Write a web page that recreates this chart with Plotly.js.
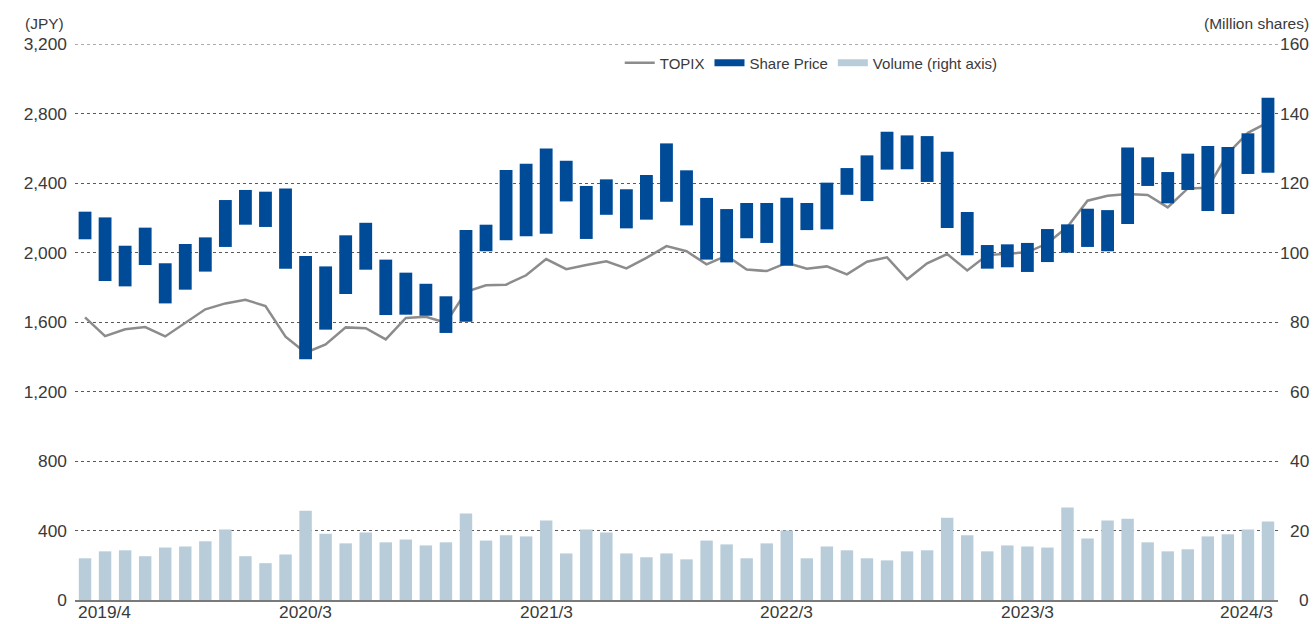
<!DOCTYPE html>
<html>
<head>
<meta charset="utf-8">
<script src="https://cdn.plot.ly/plotly-3.0.1.min.js"></script>
<style>html,body{margin:0;padding:0;background:#fff;}#chart{width:1313px;height:624px;}</style>
</head>
<body>
<div id="chart"></div>
<script>
const months = ["2019/4","2019/5","2019/6","2019/7","2019/8","2019/9","2019/10","2019/11","2019/12","2020/1","2020/2","2020/3",
"2020/4","2020/5","2020/6","2020/7","2020/8","2020/9","2020/10","2020/11","2020/12","2021/1","2021/2","2021/3",
"2021/4","2021/5","2021/6","2021/7","2021/8","2021/9","2021/10","2021/11","2021/12","2022/1","2022/2","2022/3",
"2022/4","2022/5","2022/6","2022/7","2022/8","2022/9","2022/10","2022/11","2022/12","2023/1","2023/2","2023/3",
"2023/4","2023/5","2023/6","2023/7","2023/8","2023/9","2023/10","2023/11","2023/12","2024/1","2024/2","2024/3"];

const priceHigh = [2235,2202,2039,2143,1938,2049,2087,2302,2360,2350,2369,1980,1920,2099,2171,1959,1884,1820,1748,2129,
2160,2475,2511,2599,2528,2383,2421,2364,2446,2628,2473,2314,2250,2285,2285,2315,2285,2402,2486,2559,
2695,2674,2670,2580,2233,2043,2047,2055,2135,2162,2252,2244,2605,2548,2463,2569,2613,2607,2686,2891];

const priceLow = [2076,1836,1805,1928,1707,1786,1890,2032,2160,2147,1907,1385,1556,1761,1901,1640,1642,1636,1537,1602,
2007,2070,2093,2108,2294,2078,2217,2139,2189,2292,2156,1959,1943,2082,2055,1924,2129,2133,2332,2296,
2477,2479,2406,2141,1984,1907,1915,1888,1945,1999,2032,2007,2164,2383,2283,2360,2239,2222,2452,2459];

const topix = [1627,1519,1558,1571,1517,1594,1673,1707,1728,1692,1515,1423,1471,1569,1564,1500,1623,1630,1596,1774,
1811,1815,1869,1962,1904,1928,1949,1909,1969,2037,2007,1932,1982,1902,1893,1941,1907,1920,1874,1947,
1972,1846,1938,1991,1897,1985,1991,2001,2053,2148,2298,2327,2337,2331,2260,2369,2373,2570,2689,2749];

const volume = [12.0,14.0,14.3,12.6,15.1,15.4,16.9,20.3,12.6,10.6,13.1,25.7,19.1,16.3,19.4,16.6,17.4,15.7,16.6,24.9,
17.1,18.6,18.3,22.9,13.4,20.3,19.4,13.4,12.3,13.4,11.7,17.1,16.0,12.0,16.3,20.0,12.0,15.4,14.3,12.0,
11.4,14.0,14.3,23.7,18.6,14.0,15.7,15.4,15.1,26.6,17.7,22.9,23.4,16.6,14.0,14.6,18.3,18.9,20.3,22.6];

const xTickLabels = ["2019/4","2020/3","2021/3","2022/3","2023/3","2024/3"];
const leftTicks = [0,400,800,1200,1600,2000,2400,2800,3200];
const rightTicks = [0,20,40,60,80,100,120,140,160];

const seriesNames = ["TOPIX","Share Price","Volume (right axis)"];
const colTopix = "#8c8c8c", colPrice = "#004b98", colVol = "#b8cdd9";
const font = "Liberation Sans, Arial, sans-serif";
const txt = "#3a3a3a";
const tickSize = 17.33;

const priceSpan = priceHigh.map((h,i)=>h-priceLow[i]);

const traces = [
  {type:"bar", x:months, y:volume, yaxis:"y", marker:{color:colVol}, width:0.62, showlegend:false},
  {type:"scatter", mode:"lines", x:months, y:topix, yaxis:"y2", name:seriesNames[0], line:{color:colTopix,width:2.5}},
  {type:"bar", x:months, y:priceSpan, base:priceLow, yaxis:"y3", marker:{color:colPrice}, width:0.64, showlegend:false},
  {type:"scatter", mode:"lines", x:[null], y:[null], yaxis:"y", name:seriesNames[1], line:{color:colPrice,width:7}},
  {type:"scatter", mode:"lines", x:[null], y:[null], yaxis:"y", name:seriesNames[2], line:{color:colVol,width:7}}
];

const annotations = xTickLabels.map((lab,i)=>({
  x: lab, xref:"x", y:-0.0432, yref:"paper", yanchor:"bottom",
  xanchor: i===0 ? "left" : (i===xTickLabels.length-1 ? "right" : "center"),
  xshift: i===0 ? -9 : (i===xTickLabels.length-1 ? 7 : 0),
  text: lab, showarrow:false, font:{family:font,size:tickSize,color:txt}
}));
// right axis tick labels, right-aligned as in the reference
rightTicks.forEach(v=>annotations.push({
  x:1.0274, xref:"paper", y:v, yref:"y", xanchor:"right", yanchor:"middle",
  text:String(v), showarrow:false, font:{family:font,size:tickSize,color:txt}
}));
annotations.push({x:-0.0075, xref:"paper", y:1.036, yref:"paper", xanchor:"right", yanchor:"middle", text:"(JPY)", showarrow:false, font:{family:font,size:15.5,color:txt}});
annotations.push({x:1.0274, xref:"paper", y:1.036, yref:"paper", xanchor:"right", yanchor:"middle", text:"(Million shares)", showarrow:false, font:{family:font,size:15.5,color:txt}});

const layout = {
  width:1313, height:624,
  margin:{l:75, r:35, t:44, b:24},
  paper_bgcolor:"#fff", plot_bgcolor:"#fff",
  font:{family:font, size:15, color:txt},
  barmode:"overlay",
  showlegend:true,
  legend:{orientation:"h", x:0.612, xanchor:"center", y:0.966, yanchor:"middle", font:{family:font,size:15,color:txt}, bgcolor:"rgba(0,0,0,0)", itemwidth:30},
  xaxis:{type:"category", range:[-0.5,59.5], showticklabels:false, ticks:"", showgrid:false, showline:true, linecolor:"#7a7a7a", linewidth:1.5, zeroline:false},
  yaxis:{side:"right", range:[0,160], tickvals:rightTicks, showticklabels:false, showgrid:true, gridcolor:"#5a5a5a", griddash:"dot", gridwidth:1, zeroline:false, ticks:""},
  yaxis2:{overlaying:"y", side:"left", range:[0,3200], tickvals:leftTicks, tickformat:",", showgrid:false, zeroline:false, ticks:"", ticklabelstandoff:7, tickfont:{family:font,size:tickSize,color:txt}},
  yaxis3:{overlaying:"y", side:"left", range:[0,3200], visible:false, showgrid:false, zeroline:false},
  shapes:[{type:"line", xref:"paper", x0:0, x1:1, yref:"y", y0:160, y1:160, line:{color:"#5a5a5a", width:1, dash:"dot"}, layer:"below"}],
  annotations: annotations
};

Plotly.newPlot("chart", traces, layout, {displayModeBar:false, staticPlot:true});
</script>
</body>
</html>
